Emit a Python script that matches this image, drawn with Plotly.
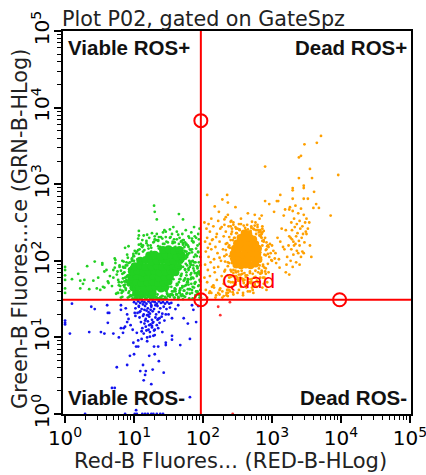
import plotly.graph_objects as go

TITLE = "Plot P02, gated on GateSpz"
XTITLE = "Red-B Fluores... (RED-B-HLog)"
YTITLE = "Green-B Fluores...ce (GRN-B-HLog)"
DECADES = [1, 10, 100, 1000, 10000, 100000]
DECADE_LABELS = ["10<sup>0</sup>", "10<sup>1</sup>", "10<sup>2</sup>", "10<sup>3</sup>", "10<sup>4</sup>", "10<sup>5</sup>"]
MINOR_STEPS = [2, 3, 4, 5, 6, 7, 8, 9]

# Gate positions, fluorescence units
GATE_X = 93
GATE_Y = 31
HANDLE_TOP_Y = 6760
HANDLE_RIGHT_X = 9550

# Events, read as log10 fluorescence
green_core_x = [1.03,1.11,1.19,1.27,0.99,1.07,1.15,1.23,1.31,1.39,1.45,0.95,1.03,1.11,1.19,1.27,1.35,1.43,1.5,0.96,1.04,1.12,1.2,1.28,1.36,1.44,1.52,0.97,1.05,1.13,1.21,1.29,1.37,1.45,1.53,1.6,1.01,1.09,1.17,1.25,1.33,1.41,1.49,1.57,1.64,1.09,1.17,1.25,1.33,1.41,1.49,1.57,1.66,1.22,1.3,1.38,1.46,1.54,1.62,1.69,1.42,1.5,1.58,1.66]
green_core_y = [1.58,1.57,1.59,1.58,1.65,1.66,1.64,1.65,1.66,1.64,1.65,1.72,1.73,1.71,1.72,1.73,1.71,1.72,1.73,1.79,1.8,1.78,1.79,1.8,1.78,1.79,1.8,1.86,1.87,1.85,1.86,1.87,1.85,1.86,1.87,1.85,1.93,1.94,1.92,1.93,1.94,1.92,1.93,1.94,1.92,2.0,2.01,1.99,2.0,2.01,1.99,2.0,2.01,2.07,2.08,2.06,2.07,2.08,2.06,2.07,2.14,2.15,2.13,2.14]
green_x = [1.29,1.30,1.33,1.65,1.71,1.07,1.07,1.33,1.42,1.57,1.52,0,0,0,0,0,0,0.10,0.19,0.22,0.28,0.22,0.26,0.32,0.43,0.54,0.54,0.41,0.35,0.46,0.48,0.51,0.55,0.57,0.57,0.60,0.62,0.63,0.68,0.72,0.73,0.73,0.83,0.87,0.90,0.70,0.75,0.77,0.77,0.83,0.80,0.91,0.85,0.90,0.94,0.97,0.85,0.87,0.78,0.65,0.70,1.04,1.07,1.00,1.05,
 0.92,0.95,0.88,0.82,0.98,1.0,0.93,0.96,0.84,0.89,0.92,0.98,1.02,0.96,1.03,1.08,1.12,1.15,1.2,1.25,1.28,1.18,1.1,1.22,1.35,1.3,1.25,1.38,1.42,1.47,1.52,1.58,1.36,1.44,1.55,1.62,1.66,1.7,1.75,1.79,1.83,1.87,1.9,1.93,1.95,1.72,1.76,1.8,1.84,1.88,1.92,1.94,1.68,1.73,1.78,1.82,1.86,1.9,1.95,1.65,1.7,1.74,1.8,1.84,1.89,1.93,1.96,1.6,1.67,1.72,1.77,1.85,1.91,1.94,1.63,1.69,1.75,1.81,1.87,1.92,1.96,1.58,1.64,1.71,1.79,1.86,1.93,1.55,1.61,1.68,1.76,1.83,1.9,1.95,1.5,1.57,1.65,1.73,1.82,1.88,1.94,1.46,1.54,1.62,1.7,1.78,1.85,1.92,1.42,1.5,1.6,1.67,1.77,1.84,1.91,1.96,1.38,1.48,1.56,1.66,1.74,1.81,1.89,1.95,1.02,1.08,1.14,1.2,1.27,1.33,1.4,1.05,1.12,1.18,1.24,1.31,1.37,1.45,1.1,1.16,1.22,1.29,1.34,1.41,1.47,1.53,1.59,1.64,1.69,1.74,1.78,1.83,1.88,1.93,
 0.88,0.91,0.86,0.93,0.89,0.84,0.92,0.87,0.9,0.85,0.94,0.88,0.91,0.83,0.86,0.93,0.79,0.95,0.97,0.81,0.99,0.76,1.01,0.92,1.04,1.07,0.98,1.12,1.17,1.06,1.23,1.14,1.28,1.19,1.36,1.26,1.41,1.32,1.48,1.39,1.55,1.46,1.61,1.53,1.67,1.59,1.73,1.64,1.77,1.71,1.81,1.75,1.86,1.79,1.91,1.84,1.58,1.63,1.69,1.74,1.71,1.76,1.82,1.68,1.73,1.78,1.83,1.86,1.91,1.94,1.62,1.66,1.72,1.77,1.81,1.87,1.92,1.96,1.59,1.65,1.7,1.76,1.8,1.85,1.89,1.93,1.97,1.04,1.09,1.13,1.01,1.16,1.21,1.26,1.11,1.3,1.36,1.43,1.49,1.35,1.23,1.56,1.61,1.44]
green_y = [2.72,2.64,2.54,2.61,2.54,2.39,2.33,2.35,2.37,2.44,2.41,1.92,1.88,1.81,1.75,1.64,1.58,1.76,1.83,1.74,1.75,1.64,1.70,1.93,1.99,1.97,1.95,1.74,1.63,1.64,1.78,1.62,1.66,1.65,1.86,1.88,1.73,1.71,1.67,2.03,2.01,1.97,2.0,2.17,2.08,1.88,1.82,1.75,1.58,1.53,1.62,1.52,1.68,1.72,1.9,2.0,1.84,1.78,1.68,1.8,1.78,2.12,2.09,2.06,2.02,
 1.58,1.55,1.62,1.72,1.95,2.0,1.86,1.92,1.92,1.98,1.68,1.55,1.52,1.64,2.1,2.15,2.18,2.14,2.2,2.17,2.24,2.26,2.22,2.3,2.27,2.32,2.12,2.18,2.22,2.25,2.3,2.28,2.16,2.4,2.35,2.38,2.3,2.35,2.4,2.32,2.37,2.44,2.3,2.35,2.42,2.27,2.22,2.3,2.26,2.32,2.2,2.28,2.25,2.18,2.2,2.14,2.24,2.16,2.22,2.22,2.16,2.12,2.1,2.15,2.08,2.12,2.05,2.18,2.06,2.02,2.05,2.0,2.06,1.98,1.98,1.98,1.96,1.92,1.98,1.9,1.94,1.9,1.88,1.92,1.9,1.94,1.85,1.86,1.82,1.8,1.85,1.78,1.84,1.82,1.72,1.76,1.72,1.75,1.76,1.7,1.68,1.7,1.66,1.7,1.65,1.72,1.66,1.6,1.62,1.66,1.6,1.64,1.58,1.62,1.6,1.55,1.52,1.57,1.55,1.58,1.53,1.57,1.55,1.52,1.52,1.51,1.54,1.53,1.51,1.52,1.5,1.54,1.52,1.51,1.53,1.52,1.5,1.53,1.51,1.52,1.55,1.52,1.5,1.54,1.51,1.56,1.52,1.5,1.54,
 1.77,1.63,1.84,1.71,1.56,1.94,1.81,1.66,1.89,1.75,1.6,1.97,1.69,1.8,1.91,1.54,1.73,2.04,1.61,1.85,1.53,1.92,1.7,2.02,1.52,2.09,1.58,2.13,2.19,1.53,2.21,1.51,2.27,1.52,2.29,1.5,2.33,1.53,2.34,1.51,2.36,1.54,2.27,1.57,2.31,1.6,2.38,1.56,2.31,1.62,2.24,1.67,2.34,1.72,2.27,1.63,2.21,1.77,1.69,1.83,2.29,2.17,2.11,2.03,1.89,2.23,2.07,1.95,1.81,2.13,1.74,1.99,2.25,1.93,1.84,1.68,1.76,1.61,2.09,1.97,1.87,1.58,1.73,1.64,1.91,1.56,1.69,1.51,1.51,1.53,2.11,1.52,1.5,1.54,2.2,1.51,1.52,1.53,1.51,1.52,2.28,2.31,1.5,1.54,2.19,1.53,2.23]

green_halo_x = [0.83,0.86,0.79,0.88,0.82,0.91,0.76,0.85,0.89,0.8,0.87,0.93,0.84,0.9,0.96,0.78,0.72,0.74,0.81,0.94,1.0,1.05,0.97,1.08,1.13,0.99,1.06,1.16,1.21,1.11,1.26,1.18,1.32,1.24,1.38,1.29,1.44,1.35,1.49,1.41,1.56,1.46,1.62,1.51,1.69,1.57,1.74,1.64,1.79,1.71,1.76,1.81,1.73,1.78,1.84,1.71,1.75,1.8,1.87,1.77,1.83,1.89,1.74,1.79,1.86,1.92,1.69,1.76,1.82,1.88,1.94,1.67,1.72,1.78,1.85,1.91,1.63,1.7,1.75,1.83,1.89,1.95,1.59,1.66,1.73,1.8,1.87,1.93,1.55,1.62,1.68,1.76,1.84,1.9,1.96,1.34,1.4,1.47,1.53,1.6,1.66,1.72,1.38,1.45,1.52,1.58,1.65,1.71]
green_halo_y = [1.83,1.73,1.94,1.64,1.58,1.69,1.86,1.99,1.79,1.67,1.91,1.6,1.77,1.94,1.54,1.72,1.91,1.57,1.87,1.98,1.55,1.53,2.03,1.52,2.12,2.06,2.14,1.53,2.16,2.19,1.52,2.23,1.53,2.2,1.52,2.25,2.22,2.26,2.24,2.29,2.25,2.31,2.28,1.55,2.26,1.6,2.24,1.53,2.18,2.21,2.12,2.15,2.06,2.08,2.11,2.0,2.03,2.0,2.05,1.94,1.95,1.98,1.88,1.88,1.9,1.92,1.83,1.81,1.82,1.84,1.86,1.76,1.74,1.76,1.78,1.8,1.69,1.67,1.68,1.7,1.72,1.75,1.62,1.61,1.61,1.63,1.65,1.67,1.56,1.56,1.55,1.57,1.58,1.6,1.62,1.56,1.54,1.6,1.56,1.63,1.58,1.54,1.52,1.51,1.53,1.52,1.52,1.5]

blue_x = [0,0,0,0.10,0.38,0.43,0.62,0.64,0.61,0.81,0.81,0.88,0.62,0.35,0.07,0.52,0.57,0.70,0.78,0.84,0.87,0.85,0.81,0.9,0.92,0.95,0.98,0.9,0.99,1.03,1.06,0.94,1.0,0.75,0.9,1.13,1.22,1.3,1.36,1.27,1.09,1.17,1.16,1.43,1.25,1.14,0.68,0.72,1.81,
 0.29,0.87,1.01,1.04,1.12,1.16,1.2,1.25,1.28,1.33,1.38,1.42,1.03,1.72,1.78,1.9,1.81,1.67,1.55,1.55,1.46,1.46,1.41,1.3,1.29,1.35,1.23,1.19,1.84,1.86,1.93,1.64,1.6,1.55,1.5,
 1.0,1.03,1.06,1.09,1.12,1.15,1.18,1.21,1.24,1.27,1.3,1.33,1.36,1.39,1.42,1.45,1.48,1.51,1.54,1.02,1.07,1.11,1.16,1.2,1.25,1.29,1.34,1.38,1.43,1.47,1.52,1.05,1.09,1.14,1.18,1.23,1.27,1.32,1.36,1.41,1.46,1.08,1.13,1.17,1.22,1.26,1.31,1.35,1.4,1.44,1.1,1.15,1.2,1.24,1.28,1.33,1.37,1.12,1.17,1.21,1.26,1.3,1.35,1.04,1.14,1.23,1.19,1.28,1.06,1.11,1.01,
 1.13,1.19,1.24,1.31,1.08,1.16,1.27,1.22,1.11,1.18,1.29,1.25,1.34,1.2,1.07,1.15,1.26,1.37,1.02,1.21]
blue_y = [1.22,1.19,1.17,1.44,1.4,1.37,1.32,1.32,1.42,1.42,1.36,1.38,1.19,1.07,1.05,1.07,1.05,1.05,1.0,1.06,1.14,1.12,1.12,1.2,1.24,1.16,1.1,1.3,0.93,0.88,0.88,0.76,0.78,0.61,0.64,0.64,0.76,0.78,0.69,0.58,0.56,0.56,0.51,0.54,0.39,0.44,0.34,0.34,0.22,
 0,0,0,0,0,0,0,0,0,0,0,0,0.05,1.25,1.18,1.2,0.98,0.9,1.02,0.97,0.93,0.9,1.07,1.03,0.88,0.88,1.01,0.95,1.42,1.36,1.41,1.42,1.37,1.25,1.3,
 1.46,1.44,1.47,1.45,1.47,1.46,1.44,1.47,1.45,1.47,1.46,1.44,1.47,1.45,1.46,1.44,1.46,1.44,1.45,1.38,1.4,1.37,1.41,1.38,1.4,1.37,1.41,1.38,1.4,1.37,1.39,1.32,1.34,1.3,1.35,1.31,1.34,1.3,1.33,1.31,1.3,1.26,1.28,1.24,1.27,1.23,1.26,1.24,1.27,1.22,1.2,1.18,1.21,1.17,1.2,1.16,1.19,1.12,1.14,1.1,1.13,1.1,1.12,1.06,1.05,1.07,1.0,1.02,0.96,0.98,1.32,
 1.43,1.29,1.36,1.42,1.33,1.22,1.19,1.16,1.08,1.09,1.09,1.42,1.23,1.29,1.41,1.36,1.15,1.25,1.28,1.33]

orange_core_x = [2.48,2.55,2.62,2.69,2.76,2.45,2.52,2.59,2.66,2.73,2.8,2.44,2.51,2.58,2.65,2.72,2.79,2.46,2.53,2.6,2.67,2.74,2.8,2.49,2.56,2.63,2.7,2.76,2.54,2.61,2.68,2.73,2.6,2.66]
orange_core_y = [1.95,1.94,1.95,1.94,1.96,2.02,2.03,2.01,2.02,2.03,2.02,2.09,2.1,2.08,2.09,2.1,2.09,2.16,2.17,2.15,2.16,2.17,2.16,2.23,2.24,2.22,2.23,2.22,2.3,2.29,2.3,2.28,2.36,2.35]
orange_x = [3.71,3.65,3.47,3.42,3.39,2.9,3.55,3.96,3.39,3.58,3.3,3.3,3.46,3.46,3.61,3.12,3.3,3.46,3.52,2.9,2.96,3.07,3.09,3.03,2.85,3.85,3.64,3.68,3.6,3.19,3.25,3.17,
 2.06,2.17,2.35,2.23,2.36,2.28,2.47,2.36,2.22,2.12,2.02,2.05,2.08,2.1,2.15,2.2,2.25,2.3,2.03,2.06,2.1,2.14,2.18,2.24,2.29,2.33,2.04,2.08,2.12,2.16,2.21,2.26,2.31,2.36,2.03,2.07,2.11,2.17,2.22,2.27,2.32,2.38,2.02,2.06,2.1,2.15,2.2,2.25,2.3,2.35,2.4,2.04,2.09,2.13,2.19,2.24,2.28,2.34,2.06,2.12,2.18,2.24,2.3,2.36,2.1,2.16,2.22,2.28,2.34,
 2.4,2.44,2.48,2.42,2.46,2.38,2.41,2.45,2.4,2.43,2.47,2.38,2.42,2.46,2.5,2.55,2.6,2.65,2.7,2.75,2.8,2.52,2.58,2.63,2.68,2.73,2.5,2.55,2.62,2.7,2.76,2.83,2.86,2.9,2.94,2.98,2.85,2.88,2.92,2.96,3.0,2.84,2.87,2.91,2.95,2.85,2.89,2.93,2.83,2.88,2.92,2.82,2.86,2.78,2.72,2.65,2.58,2.5,2.44,2.39,2.36,2.82,2.75,2.55,2.65,
 3.26,3.3,3.34,3.38,3.42,3.46,3.5,3.54,3.28,3.32,3.36,3.4,3.44,3.48,3.52,3.29,3.33,3.37,3.41,3.45,3.49,3.27,3.31,3.35,3.39,3.43,3.47,3.24,3.28,3.32,3.36,3.4,3.44,3.2,3.25,3.29,3.34,3.38,3.42,3.46,3.18,3.22,3.27,3.31,3.35,3.12,3.16,3.21,3.3,3.08,3.14,3.05,3.1,3.0,3.2,3.25,3.4,3.5,3.55,3.57,2.36,
 2.41,2.84,2.47,2.81,2.43,2.87,2.39,2.86,2.44,2.83,2.48,2.89,2.42,2.85,2.46,2.91,2.4,2.84,2.49,2.93,2.51,2.82,2.57,2.88,2.62,2.79,2.68,2.74,2.53,2.86,2.59,2.82,2.64,2.77,2.7,2.56,2.47,2.91,2.99,2.33,2.27,2.19,2.13,2.37,2.31,2.07,2.24,2.16,3.02,2.97,3.06,2.94,3.11,3.04,2.37,2.43,2.31,2.52,2.58,2.69,2.76,2.83,2.62,2.48,2.41]
orange_y = [3.63,3.54,3.52,3.37,3.35,3.23,3.2,3.12,3.08,3.08,2.95,2.92,2.98,2.95,2.9,2.86,2.81,2.81,2.81,2.78,2.74,2.78,2.78,2.64,2.59,2.59,2.74,2.69,2.69,2.67,2.67,2.59,
 2.86,2.71,2.86,2.64,2.76,2.8,2.7,2.6,2.52,2.55,2.5,2.42,2.48,2.38,2.45,2.35,2.42,2.32,2.25,2.3,2.22,2.28,2.18,2.25,2.15,2.22,2.12,2.05,2.15,2.02,2.1,2.0,2.06,1.98,1.95,1.88,1.98,1.85,1.92,1.8,1.88,1.78,1.78,1.72,1.8,1.68,1.75,1.64,1.7,1.62,1.72,1.62,1.58,1.66,1.55,1.62,1.52,1.58,1.52,1.58,1.52,1.56,1.54,1.62,1.6,1.65,1.58,1.6,1.55,
 2.45,2.5,2.42,2.38,2.3,2.2,2.1,2.0,1.88,1.8,1.72,1.62,1.66,1.7,1.78,1.82,1.75,1.7,1.76,1.68,1.72,1.62,1.58,1.65,1.6,1.58,2.42,2.48,2.4,2.45,2.5,2.4,2.45,2.3,2.2,2.1,2.35,2.25,2.15,2.05,2.0,2.0,1.95,1.9,1.85,1.85,1.78,1.72,1.78,1.7,1.62,1.72,1.65,1.66,1.62,1.6,1.55,1.58,1.56,1.6,1.58,2.55,2.6,2.55,2.62,
 2.7,2.65,2.72,2.62,2.68,2.6,2.55,2.5,2.5,2.55,2.48,2.52,2.45,2.5,2.42,2.4,2.44,2.36,2.42,2.35,2.38,2.3,2.25,2.32,2.26,2.3,2.24,2.2,2.15,2.2,2.13,2.2,2.12,2.4,2.32,2.28,2.22,2.1,2.05,2.1,2.15,2.05,2.0,2.08,1.98,2.25,2.18,1.95,1.92,2.3,2.42,2.1,2.02,2.2,1.85,1.82,1.95,2.35,2.2,2.05,1.54,
 2.03,2.31,1.87,2.11,2.27,1.93,2.17,2.26,1.84,1.99,2.36,1.91,1.97,1.87,2.13,2.07,1.79,2.04,2.24,2.19,1.86,1.94,1.83,2.39,1.81,2.44,1.84,2.41,2.41,2.37,2.46,2.33,2.47,2.4,2.43,1.77,1.69,1.83,2.01,2.57,2.44,2.31,2.27,1.73,1.86,2.17,2.04,1.91,2.13,2.22,1.97,2.09,1.91,2.03,1.66,1.59,2.54,1.74,1.76,1.71,1.79,1.83,1.68,1.8,2.52]

orange_halo_x = [2.36,2.39,2.33,2.41,2.35,2.38,2.42,2.32,2.37,2.4,2.34,2.43,2.36,2.41,2.38,2.83,2.86,2.81,2.88,2.84,2.91,2.85,2.82,2.89,2.94,2.83,2.87,2.92,2.8,2.85,2.44,2.48,2.52,2.56,2.6,2.64,2.68,2.72,2.76,2.8,2.46,2.5,2.54,2.58,2.62,2.66,2.7,2.74,2.78,2.43,2.47,2.51,2.55,2.59,2.63,2.67,2.71,2.75,2.45,2.49,2.53,2.57,2.61,2.65,2.69,2.73,2.77,2.81,2.84,2.42,2.37,2.33,2.44,2.4,2.31,2.47,2.52,2.79,2.75,2.71,2.86,2.9,2.95]
orange_halo_y = [1.93,2.06,2.14,1.86,2.23,2.31,2.12,1.99,2.18,2.27,2.08,2.02,1.81,2.35,1.97,2.11,2.2,1.9,2.27,2.02,2.14,1.84,2.33,2.08,1.96,2.38,1.78,2.24,2.4,2.3,1.88,1.85,1.82,1.87,1.84,1.81,1.86,1.83,1.87,1.85,1.8,1.76,1.78,1.74,1.79,1.76,1.73,1.78,1.74,1.72,1.69,1.74,1.66,1.71,1.68,1.72,1.65,1.7,2.3,2.36,2.4,2.38,2.43,2.41,2.39,2.42,2.35,2.37,2.34,2.42,2.45,2.38,2.47,2.51,2.47,2.44,2.48,2.47,2.46,2.51,2.42,1.86,2.18]

red_x = [2.22,2.25,2.39,2.43]
red_y = [1.40,1.29,1.46,0.0]


def values(decades):
    return [10 ** d for d in decades]


RED = "#ff0000"
DOT = 2.8
FONT = "DejaVu Sans"
BOLD = "Liberation Sans"

fig = go.Figure()
for xs, ys, color, size in [
    (green_core_x, green_core_y, "#22d022", 8),
    (green_x, green_y, "#22d022", DOT),
    (green_halo_x, green_halo_y, "#22d022", DOT),
    (blue_x, blue_y, "#1414f0", DOT),
    (orange_core_x, orange_core_y, "#ffa000", 7.5),
    (orange_x, orange_y, "#ffa000", DOT),
    (orange_halo_x, orange_halo_y, "#ffa000", DOT),
    (red_x, red_y, "#ff3030", DOT),
]:
    fig.add_trace(go.Scatter(x=values(xs), y=values(ys), mode="markers",
                             marker=dict(color=color, size=size, line=dict(width=0)),
                             cliponaxis=False if size == DOT else True))

fig.add_trace(go.Scatter(x=[GATE_X, GATE_X], y=[1, 100000], mode="lines", line=dict(color=RED, width=2)))
fig.add_trace(go.Scatter(x=[0.9, 110000], y=[GATE_Y, GATE_Y], mode="lines", line=dict(color=RED, width=2)))
fig.add_trace(go.Scatter(x=[GATE_X, GATE_X, HANDLE_RIGHT_X], y=[HANDLE_TOP_Y, GATE_Y, GATE_Y], mode="markers",
                         marker=dict(symbol="circle-open", size=13, color=RED, line=dict(color=RED, width=2))))

minor_vals = [m * d for d in DECADES[:-1] for m in MINOR_STEPS]
axis_common = dict(
    type="log", tickmode="array", tickvals=DECADES, ticktext=DECADE_LABELS, automargin=False,
    ticks="outside", ticklen=7, tickwidth=1.5, tickcolor="#000", ticklabeloverflow="allow",
    tickfont=dict(family=FONT, size=20, color="#000"),
    showgrid=False, zeroline=False, showline=True, linecolor="#000", linewidth=2, mirror=True,
    minor=dict(tickmode="array", tickvals=minor_vals, ticks="outside", ticklen=4, tickwidth=1, tickcolor="#000", showgrid=False),
)
fig.update_xaxes(range=[-0.03, 5.015], tickangle=0, ticklabelstandoff=-2, **axis_common)
fig.update_yaxes(range=[0, 5], tickangle=-90, ticklabelstandoff=-3, **axis_common)


def note(text, x, y, xanchor, color="#111", family=BOLD, size=20.5, bold=True, xshift=0, angle=0):
    fig.add_annotation(text=f"<b>{text}</b>" if bold else text, x=x, y=y, xref="paper", yref="paper",
                       xanchor=xanchor, yanchor="middle", showarrow=False, xshift=xshift, textangle=angle,
                       font=dict(family=family, size=size, color=color))


note("Viable ROS+", 0.017, 0.958, "left", xshift=-3)
note("Dead ROS+", 0.986, 0.958, "right", xshift=3)
note("Viable ROS-", 0.017, 0.044, "left", xshift=-3)
note("Dead ROS-", 0.986, 0.044, "right", xshift=3)
note("Quad", 0.532, 0.347, "center", color=RED, family=FONT, size=20, bold=False)
note(XTITLE, 0.48, -0.122, "center", color="#222", family=FONT, size=21, bold=False)
note(YTITLE, -0.1236, 0.483, "center", color="#222", family=FONT, size=20.8, bold=False, angle=-90)

fig.update_layout(
    width=426, height=475, showlegend=False,
    margin=dict(l=63, r=15, t=31, b=61),
    paper_bgcolor="#fff", plot_bgcolor="#fff",
    title=dict(text=TITLE, x=62 / 426, xanchor="left", y=1 - 19 / 475, yanchor="middle",
               font=dict(family=FONT, size=20.7, color="#222")),
)
fig.write_html("out.html", config={"displayModeBar": False},
               post_script="document.body.style.margin='0';document.documentElement.style.overflow='hidden';")
